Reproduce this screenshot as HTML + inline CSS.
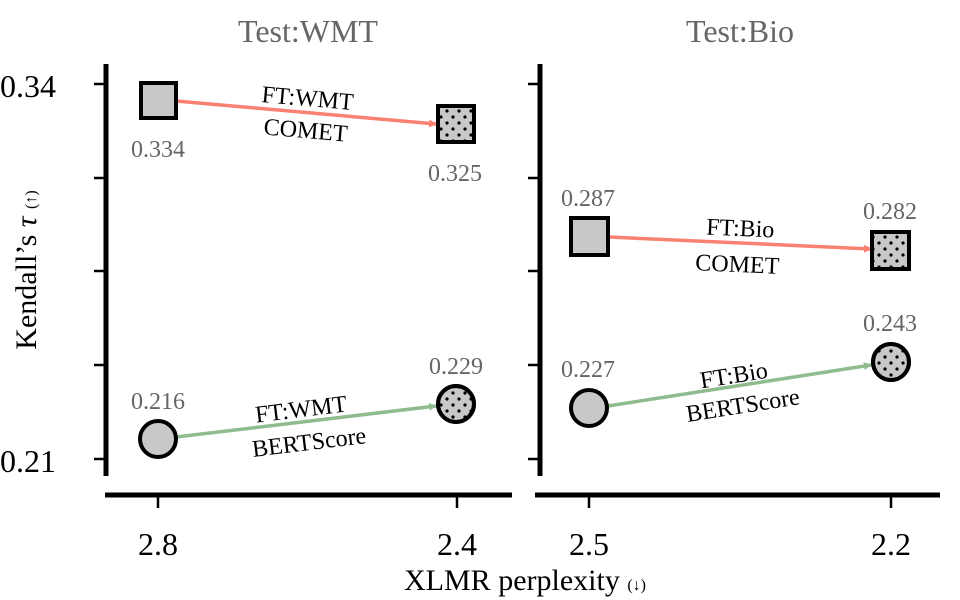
<!DOCTYPE html>
<html><head><meta charset="utf-8"><style>
html,body{margin:0;padding:0;background:#fff;}
svg{display:block;font-family:"Liberation Serif","DejaVu Serif",serif;}
</style></head><body>
<svg width="960" height="600" viewBox="0 0 960 600" xmlns="http://www.w3.org/2000/svg">
<defs>
<pattern id="dots" x="0" y="0" width="12" height="12" patternUnits="userSpaceOnUse">
<circle cx="3" cy="3" r="1.6" fill="#000"/><circle cx="9" cy="9" r="1.6" fill="#000"/>
</pattern>
<marker id="ar" markerWidth="8" markerHeight="8" refX="7" refY="4" orient="auto" markerUnits="userSpaceOnUse" viewBox="0 0 8 8"><path d="M0,0 L8,4 L0,8z" fill="#fa8072"/></marker>
<marker id="ag" markerWidth="8" markerHeight="8" refX="7" refY="4" orient="auto" markerUnits="userSpaceOnUse" viewBox="0 0 8 8"><path d="M0,0 L8,4 L0,8z" fill="#8fbc8f"/></marker>
</defs>
<!-- titles -->
<text x="308" y="42" font-size="32" fill="#666" text-anchor="middle">Test:WMT</text>
<text x="740" y="42" font-size="32" fill="#666" text-anchor="middle">Test:Bio</text>
<!-- y label -->
<text transform="translate(36,270) rotate(-90)" font-size="30" text-anchor="middle">Kendall’s <tspan font-style="italic">τ</tspan> <tspan font-size="16">(↑)</tspan></text>
<text x="0" y="97" font-size="32">0.34</text>
<text x="0" y="472" font-size="32">0.21</text>
<!-- left axes -->
<g stroke="#000" stroke-width="5" fill="none">
<line x1="106" y1="64" x2="106" y2="476"/>
<line x1="105" y1="495" x2="512" y2="495"/>
<line x1="540" y1="64" x2="540" y2="476"/>
<line x1="535" y1="495" x2="940" y2="495"/>
</g>
<g stroke="#000" stroke-width="2.5">
<line x1="94" y1="84" x2="106" y2="84"/><line x1="94" y1="178" x2="106" y2="178"/><line x1="94" y1="271" x2="106" y2="271"/><line x1="94" y1="365" x2="106" y2="365"/><line x1="94" y1="459" x2="106" y2="459"/>
<line x1="528" y1="84" x2="540" y2="84"/><line x1="528" y1="178" x2="540" y2="178"/><line x1="528" y1="271" x2="540" y2="271"/><line x1="528" y1="365" x2="540" y2="365"/><line x1="528" y1="459" x2="540" y2="459"/>
<line x1="158" y1="495" x2="158" y2="508"/><line x1="457" y1="495" x2="457" y2="508"/>
<line x1="589" y1="495" x2="589" y2="508"/><line x1="891" y1="495" x2="891" y2="508"/>
</g>
<text x="158" y="555" font-size="32" text-anchor="middle">2.8</text>
<text x="457" y="555" font-size="32" text-anchor="middle">2.4</text>
<text x="589" y="555" font-size="32" text-anchor="middle">2.5</text>
<text x="891" y="555" font-size="32" text-anchor="middle">2.2</text>
<text x="525" y="590" font-size="30" text-anchor="middle">XLMR perplexity <tspan font-size="16">(↓)</tspan></text>
<!-- connectors -->
<line x1="176" y1="101" x2="436" y2="124" stroke="#fa8072" stroke-width="3.5" marker-end="url(#ar)"/>
<line x1="176" y1="437" x2="436" y2="406" stroke="#8fbc8f" stroke-width="3.5" marker-end="url(#ag)"/>
<line x1="609" y1="237" x2="871" y2="249" stroke="#fa8072" stroke-width="3.5" marker-end="url(#ar)"/>
<line x1="608" y1="406" x2="871" y2="365" stroke="#8fbc8f" stroke-width="3.5" marker-end="url(#ag)"/>
<!-- markers -->
<g stroke="#000" stroke-width="4">
<rect x="141" y="83" width="35" height="35" fill="#c8c8c8"/>
<rect x="438" y="106" width="36" height="36" fill="#c8c8c8"/><rect x="438" y="106" width="36" height="36" fill="url(#dots)"/>
<circle cx="158" cy="439" r="18" fill="#c8c8c8"/>
<circle cx="456" cy="404" r="18" fill="#c8c8c8"/><circle cx="456" cy="404" r="18" fill="url(#dots)"/>
<rect x="571" y="218" width="37" height="37" fill="#c8c8c8"/>
<rect x="872" y="232" width="37" height="37" fill="#c8c8c8"/><rect x="872" y="232" width="37" height="37" fill="url(#dots)"/>
<circle cx="589" cy="408" r="18" fill="#c8c8c8"/>
<circle cx="891" cy="362" r="18" fill="#c8c8c8"/><circle cx="891" cy="362" r="18" fill="url(#dots)"/>
</g>
<!-- values -->
<g font-size="24" fill="#666" text-anchor="middle">
<text x="158" y="157">0.334</text>
<text x="455" y="181">0.325</text>
<text x="158" y="409">0.216</text>
<text x="456" y="374">0.229</text>
<text x="588" y="206">0.287</text>
<text x="890" y="219">0.282</text>
<text x="588" y="377">0.227</text>
<text x="890" y="331">0.243</text>
</g>
<!-- connector labels -->
<g font-size="24" text-anchor="middle">
<text transform="translate(307,106) rotate(5)">FT:WMT</text>
<text transform="translate(305,138) rotate(5)">COMET</text>
<text transform="translate(302,417) rotate(-7)">FT:WMT</text>
<text transform="translate(310,450) rotate(-7)">BERTScore</text>
<text transform="translate(740,236) rotate(2.5)">FT:Bio</text>
<text transform="translate(737,272) rotate(2.5)">COMET</text>
<text transform="translate(735,383) rotate(-9)">FT:Bio</text>
<text transform="translate(744,413) rotate(-9)">BERTScore</text>
</g>
</svg>
</body></html>
